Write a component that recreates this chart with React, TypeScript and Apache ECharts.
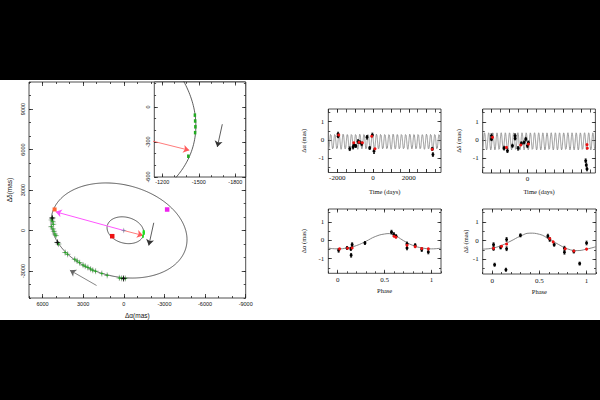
import React, { useEffect, useRef } from "react";
import * as echarts from "echarts";

// ---------------- Orbit panel (left) ----------------
const BIG_ORBIT = { cx: 350, cy: 0, a: 5100, b: 3400, tiltDeg: 14 };
const SMALL_ORBIT = { cx: -120, cy: 20, a: 1380, b: 960, tiltDeg: 15 };

const companionPts = [
  [5280, 930], [5330, 780], [5240, 640], [5210, 460], [5360, 280], [5230, 120],
  [5160, -60], [5090, -260], [5010, -380], [4900, -880], [4820, -1000],
  [4330, -1630], [4150, -1760], [3620, -2130], [3450, -2250], [3260, -2390],
  [3010, -2560], [2850, -2640], [2650, -2740], [2450, -2860], [2290, -2940],
  [2080, -3010], [1620, -3190], [1230, -3320], [330, -3510], [160, -3540],
  [20, -3560], [-110, -3550],
];
const companionErr = 230;
const companionStars = [[5280, 930], [4900, -880], [20, -3560]];
const primaryPts = [[-1468, -70], [-1470, -120], [-1472, -170], [-1470, -220], [-1414, -422]];
const originMark = [[0, 0]];
const redDot = [[855, -422]];
const magentaDot = [[-3200, 1555]];
const orangeDot = [[5110, 1560]];
const magentaArrow = [[0, 0], [5034, 1385]];
const redArrow = [[0, 0], [-1422, -371]];
const motionArrowMain = [[-2211, 570], [-1843, -1111]];
const directionArrow = [[2012, -4074], [3980, -2940]];
const motionArrowInset = [[-1693, -148], [-1652, -343]];

const mainXTicks = [-9000, -6000, -3000, 0, 3000, 6000];
const mainYTicks = [-3000, 0, 3000, 6000, 9000];
const insetXTicks = [-1800, -1500, -1200];
const insetYTicks = [-600, -300, 0];

// ---------------- Time / phase panels (right) ----------------
const PERIOD = 233;
const T0 = -165;
const raTimeModel = { offset: -0.1, amp: 0.42, peakPhase: 0.55 };
const decTimeModel = { offset: -0.07, amp: 0.47, peakPhase: 0.42 };

// [time, value, error]
const raTimeObs = [
  [-1953, 0.32, 0.1], [-1953, 0.2, 0.08], [-1302, -0.49, 0.1], [-1116, -0.4, 0.1],
  [-1060, -0.27, 0.08], [-967, -0.34, 0.08], [-837, -0.09, 0.1], [-744, -0.13, 0.08],
  [-633, -0.22, 0.1], [-335, 0.14, 0.1], [-186, -0.45, 0.08], [-37, 0.27, 0.1],
  [56, -0.63, 0.12], [3312, -0.5, 0.08], [3349, -0.81, 0.1],
];
const raTimeFit = [
  [-1916, 0.27], [-1079, -0.16], [-781, -0.13], [-595, -0.16], [-74, 0.2], [112, -0.49], [3312, -0.52],
];
const decTimeObs = [
  [-2009, 0.24, 0.1], [-2009, 0.05, 0.08], [-1302, -0.44, 0.1], [-1116, -0.58, 0.1],
  [-837, -0.31, 0.08], [-688, 0.24, 0.1], [-688, 0.09, 0.08], [-521, -0.45, 0.1],
  [-335, -0.18, 0.08], [-186, -0.13, 0.08], [-93, 0.05, 0.1], [0, -0.31, 0.1],
  [56, -0.13, 0.08], [3256, -1.13, 0.1], [3293, -1.36, 0.1], [3330, -1.58, 0.1],
];
const decTimeFit = [
  [-1953, 0.15], [-1172, -0.4], [-372, -0.27], [56, -0.22], [3349, -0.45], [3330, -0.25],
];

// [phase, value, error]
const raPhaseObs = [
  [0.01, -0.55, 0.1], [0.1, -0.42, 0.08], [0.14, -0.47, 0.08], [0.143, -0.82, 0.1],
  [0.154, -0.24, 0.1], [0.29, -0.15, 0.08], [0.573, 0.44, 0.1], [0.598, 0.31, 0.1],
  [0.622, 0.22, 0.08], [0.738, -0.2, 0.1], [0.738, -0.42, 0.1], [0.825, -0.27, 0.08],
  [0.895, -0.51, 0.1], [0.965, -0.64, 0.1],
];
const raPhaseFit = [
  [0.02, -0.47], [0.105, -0.44], [0.154, -0.42], [0.6, 0.22], [0.62, 0.16],
  [0.738, -0.27], [0.825, -0.35], [0.895, -0.45], [0.965, -0.47],
];
const decPhaseObs = [
  [0.015, -0.22, 0.1], [0.015, -0.44, 0.08], [0.026, -1.3, 0.08], [0.09, -0.37, 0.08],
  [0.146, -1.57, 0.08], [0.153, 0.06, 0.1], [0.153, -0.44, 0.1], [0.3, 0.28, 0.08],
  [0.59, 0.24, 0.1], [0.61, 0.06, 0.1], [0.657, -0.22, 0.08], [0.766, -0.41, 0.1],
  [0.766, -0.63, 0.1], [0.865, -0.59, 0.08], [0.927, -1.24, 0.08], [1.0, -0.13, 0.1],
];
const decPhaseFit = [
  [0.015, -0.41], [0.1, -0.31], [0.153, -0.19], [0.61, 0.11], [0.646, -0.07],
  [0.774, -0.44], [0.865, -0.56], [1.0, -0.46],
];
const raCurvePhase = [-0.1, 0, 0.1, 0.2, 0.3, 0.4, 0.5, 0.55, 0.6, 0.7, 0.8, 0.9, 1.0, 1.1];
const raCurveValue = [-0.43, -0.47, -0.42, -0.29, -0.06, 0.2, 0.34, 0.36, 0.3, -0.02, -0.28, -0.42, -0.47, -0.43];
const decCurvePhase = [-0.1, 0, 0.1, 0.2, 0.3, 0.4, 0.5, 0.6, 0.7, 0.8, 0.9, 1.0, 1.1];
const decCurveValue = [-0.46, -0.41, -0.26, -0.02, 0.24, 0.4, 0.34, 0.09, -0.2, -0.45, -0.54, -0.46, -0.33];

const timeLabelsRA = [-2000, 0, 2000];
const timeLabelsDec = [0];
const masLabels = [-1, 0, 1];
const phaseLabels = [0, 0.5, 1];

// ---------------- helpers ----------------
function steps(min: number, max: number, step: number) {
  const out: number[] = [];
  const start = Math.ceil(min / step - 1e-9) * step;
  for (let v = start; v <= max + 1e-9; v += step) out.push(Math.round(v * 1000) / 1000);
  return out;
}

function ellipsePts(o: any, n = 400) {
  const th = (o.tiltDeg * Math.PI) / 180;
  const c = Math.cos(th), s = Math.sin(th);
  const pts: number[][] = [];
  for (let i = 0; i <= n; i++) {
    const t = (2 * Math.PI * i) / n;
    const u = o.a * Math.cos(t), v = o.b * Math.sin(t);
    pts.push([o.cx + u * c - v * s, o.cy + u * s + v * c]);
  }
  return pts;
}

function timeModel(m: any, tmin: number, tmax: number) {
  const pts: number[][] = [];
  for (let t = tmin; t <= tmax; t += 4) {
    const ph = (t - T0) / PERIOD - m.peakPhase;
    pts.push([t, m.offset + m.amp * Math.cos(2 * Math.PI * ph)]);
  }
  return pts;
}

const SANS = "Liberation Sans";
const SERIF = "Liberation Serif";

function axisSet(dim: "x" | "y", gi: number, s: any, z: number) {
  const common: any = {
    type: "value", gridIndex: gi, min: s.min, max: s.max, inverse: !!s.inverse, z,
    splitLine: { show: false }, axisLine: { show: false, onZero: false }, silent: true,
  };
  const posA = dim === "x" ? "bottom" : "left";
  const posB = dim === "x" ? "top" : "right";
  const tickStyle = { color: "#222", width: 0.8 };
  const minorTick = { show: true, inside: true, length: s.minorLen ?? 2, customValues: s.minors, lineStyle: tickStyle };
  const majorTick = { show: true, inside: true, length: s.majorLen ?? 4, customValues: s.majors, lineStyle: tickStyle };
  const labelled: any = {
    ...common, position: posA, axisTick: minorTick,
    axisLabel: {
      show: true, customValues: s.labels, fontFamily: s.font, fontSize: s.fontSize, color: "#111",
      margin: s.margin, rotate: s.rotate ?? 0, formatter: (v: number) => String(v),
    },
  };
  if (s.name) {
    labelled.name = s.name;
    labelled.nameLocation = "middle";
    labelled.nameGap = s.nameGap;
    labelled.nameTextStyle = { fontFamily: s.font, fontSize: s.nameSize, color: "#111" };
  }
  return [
    labelled,
    { ...common, position: posA, axisTick: majorTick, axisLabel: { show: false } },
    { ...common, position: posB, axisTick: minorTick, axisLabel: { show: false } },
    { ...common, position: posB, axisTick: majorTick, axisLabel: { show: false } },
  ];
}

function errBars(data: number[][], gi: number, color: string, z: number, cross = false, width = 0.8) {
  return {
    type: "custom", xAxisIndex: gi * 4, yAxisIndex: gi * 4, z, silent: true,
    data, encode: { x: 0, y: 1 },
    renderItem: (_p: any, api: any) => {
      const x = api.value(0), y = api.value(1), ey = api.value(2), ex = api.value(3);
      const a = api.coord([x, y - ey]);
      const b = api.coord([x, y + ey]);
      const children: any[] = [
        { type: "line", shape: { x1: a[0], y1: a[1], x2: b[0], y2: b[1] }, style: { stroke: color, lineWidth: width } },
      ];
      if (cross) {
        const c = api.coord([x - ex, y]);
        const d = api.coord([x + ex, y]);
        children.push({ type: "line", shape: { x1: c[0], y1: c[1], x2: d[0], y2: d[1] }, style: { stroke: color, lineWidth: width } });
      } else {
        children.push({ type: "line", shape: { x1: a[0] - 1, y1: a[1], x2: a[0] + 1, y2: a[1] }, style: { stroke: color, lineWidth: width } });
        children.push({ type: "line", shape: { x1: b[0] - 1, y1: b[1], x2: b[0] + 1, y2: b[1] }, style: { stroke: color, lineWidth: width } });
      }
      return { type: "group", children };
    },
  };
}

const STAR = "path://M0,-10L2,-2L10,0L2,2L0,10L-2,2L-10,0L-2,-2Z";

function scatter(data: number[][], gi: number, color: string, size: any, symbol: string, z: number) {
  return {
    type: "scatter", xAxisIndex: gi * 4, yAxisIndex: gi * 4, z, silent: true,
    data: data.map((d) => [d[0], d[1]]), symbol, symbolSize: size,
    itemStyle: { color, opacity: 1 },
  };
}

function arrow(coords: number[][], gi: number, color: string, width: number, z: number) {
  return {
    type: "lines", coordinateSystem: "cartesian2d", xAxisIndex: gi * 4, yAxisIndex: gi * 4,
    z, silent: true, clip: true, polyline: false,
    symbol: ["none", "arrow"], symbolSize: 6,
    lineStyle: { color, width, opacity: 1 },
    data: [{ coords }],
  };
}

function line(data: number[][], gi: number, color: string, width: number, z: number, smooth = false) {
  return {
    type: "line", xAxisIndex: gi * 4, yAxisIndex: gi * 4, z, silent: true,
    data, showSymbol: false, symbol: "none", smooth, clip: true,
    lineStyle: { color, width },
  };
}

function buildOption() {
  const grids = [
    { left: 29, top: 82, width: 216.7, height: 216 },
    { left: 154.3, top: 82, width: 91.4, height: 95, backgroundColor: "#fff", z: 10 },
    { left: 328.3, top: 109, width: 112.7, height: 63.5 },
    { left: 482.7, top: 109, width: 112.7, height: 64 },
    { left: 328.3, top: 209, width: 112.7, height: 64.3 },
    { left: 482.7, top: 209, width: 113.3, height: 65 },
  ].map((g: any) => ({
    show: true, borderColor: "#222", borderWidth: 0.8, backgroundColor: g.backgroundColor ?? "transparent", ...g,
  }));

  const mainX = { min: -9000, max: 7000, inverse: true, majors: mainXTicks, minors: steps(-9000, 7000, 1000), labels: mainXTicks, font: SANS, fontSize: 5.5, margin: 3, name: "Δα(mas)", nameGap: 10, nameSize: 6.5 };
  const mainY = { min: -5000, max: 11000, majors: mainYTicks, minors: steps(-5000, 11000, 1000), labels: mainYTicks, font: SANS, fontSize: 5.5, margin: 3, rotate: 90, name: "Δδ(mas)", nameGap: 16, nameSize: 6.5 };
  const insX = { min: -1885, max: -1135, inverse: true, majors: insetXTicks, minors: steps(-1885, -1135, 100), labels: insetXTicks, font: SANS, fontSize: 5.5, margin: 2, majorLen: 3.5, minorLen: 1.8 };
  const insY = { min: -600, max: 214, majors: insetYTicks, minors: steps(-600, 214, 100), labels: insetYTicks, font: SANS, fontSize: 5.5, margin: 3, rotate: 90, majorLen: 3.5, minorLen: 1.8 };
  const tRA = { min: -2500, max: 3800, majors: steps(-2500, 3800, 1000), minors: steps(-2500, 3800, 500), labels: timeLabelsRA, font: SERIF, fontSize: 7, margin: 2, name: "Time (days)", nameGap: 15, nameSize: 6.5, majorLen: 3.5, minorLen: 3.5 };
  const tDec = { ...tRA, labels: timeLabelsDec };
  const yRA = { min: -1.8, max: 1.7, majors: masLabels, minors: steps(-1.8, 1.7, 0.5), labels: masLabels, font: SERIF, fontSize: 7, margin: 4, name: "Δα (mas)", nameGap: 21, nameSize: 6.5, majorLen: 3.5, minorLen: 2 };
  const yDec = { ...yRA, name: "Δδ (mas)" };
  const yDec2 = { ...yRA, name: "Δδ (mas)", nameGap: 13 };
  const ph = { min: -0.1, max: 1.1, majors: phaseLabels, minors: steps(-0.1, 1.1, 0.1), labels: phaseLabels, font: SERIF, fontSize: 7, margin: 3, name: "Phase", nameGap: 14, nameSize: 6.5, majorLen: 3.5, minorLen: 2 };

  const xAxis = [
    ...axisSet("x", 0, mainX, 0), ...axisSet("x", 1, insX, 11),
    ...axisSet("x", 2, tRA, 0), ...axisSet("x", 3, tDec, 0),
    ...axisSet("x", 4, ph, 0), ...axisSet("x", 5, ph, 0),
  ];
  const yAxis = [
    ...axisSet("y", 0, mainY, 0), ...axisSet("y", 1, insY, 11),
    ...axisSet("y", 2, yRA, 0), ...axisSet("y", 3, yDec, 0),
    ...axisSet("y", 4, yRA, 0), ...axisSet("y", 5, yDec2, 0),
  ];

  const bigOrbit = ellipsePts(BIG_ORBIT);
  const smallOrbit = ellipsePts(SMALL_ORBIT);
  const compErr = companionPts.map((p) => [p[0], p[1], companionErr, companionErr]);

  const raCurve = raCurvePhase.map((p, i) => [p, raCurveValue[i]]);
  const decCurve = decCurvePhase.map((p, i) => [p, decCurveValue[i]]);

  const series: any[] = [
    // main orbit panel
    line(bigOrbit, 0, "#333", 0.8, 2),
    line(smallOrbit, 0, "#333", 0.8, 2),
    errBars(compErr, 0, "#a0a0a0", 3, true, 0.7),
    scatter(companionPts, 0, "#1fa51f", 5, STAR, 4),
    scatter(companionStars, 0, "#111", 7, STAR, 5),
    scatter(primaryPts, 0, "#22dd22", [1.8, 3], "rect", 4),
    arrow(magentaArrow, 0, "#ff55ff", 1, 4),
    arrow(redArrow, 0, "#ff5a5a", 0.8, 4),
    arrow(motionArrowMain, 0, "#333", 0.8, 4),
    arrow(directionArrow, 0, "#666", 0.8, 4),
    scatter(originMark, 0, "#8080a0", 6, STAR, 5),
    scatter(redDot, 0, "#ee1111", 4.5, "rect", 5),
    scatter(magentaDot, 0, "#ee22ee", 4.5, "rect", 5),
    scatter(orangeDot, 0, "#ff6633", 4, "rect", 5),
    // inset
    line(smallOrbit, 1, "#333", 0.8, 12),
    scatter(primaryPts, 1, "#22aa22", [2.5, 3.5], "rect", 13),
    arrow(redArrow, 1, "#ff5a5a", 0.8, 13),
    arrow(motionArrowInset, 1, "#333", 0.8, 13),
    // time panels
    line(timeModel(raTimeModel, -2500, 3800), 2, "#8c8c8c", 0.9, 2),
    errBars(raTimeObs, 2, "#000", 3),
    scatter(raTimeObs, 2, "#000", 3, "circle", 4),
    scatter(raTimeFit, 2, "#ee1111", 3, "circle", 5),
    line(timeModel(decTimeModel, -2500, 3800), 3, "#8c8c8c", 0.9, 2),
    errBars(decTimeObs, 3, "#000", 3),
    scatter(decTimeObs, 3, "#000", 3, "circle", 4),
    scatter(decTimeFit, 3, "#ee1111", 3, "circle", 5),
    // phase panels
    line(raCurve, 4, "#777", 0.9, 2, true),
    errBars(raPhaseObs, 4, "#000", 3),
    scatter(raPhaseObs, 4, "#000", 3, "circle", 4),
    scatter(raPhaseFit, 4, "#ee1111", 3, "circle", 5),
    line(decCurve, 5, "#777", 0.9, 2, true),
    errBars(decPhaseObs, 5, "#000", 3),
    scatter(decPhaseObs, 5, "#000", 3, "circle", 4),
    scatter(decPhaseFit, 5, "#ee1111", 3, "circle", 5),
  ];

  return { animation: false, grid: grids, xAxis, yAxis, series };
}

export default function App() {
  const ref = useRef<HTMLDivElement>(null);
  useEffect(() => {
    if (!ref.current) return;
    const chart = echarts.init(ref.current, null, { renderer: "svg" });
    chart.setOption(buildOption() as any);
    return () => chart.dispose();
  }, []);
  return (
    <div style={{ position: "fixed", left: 0, top: 0, width: 600, height: 400, background: "#000" }}>
      <div style={{ position: "absolute", left: 0, top: 80, width: 600, height: 240, background: "#fff" }} />
      <div ref={ref} style={{ position: "absolute", left: 0, top: 0, width: 600, height: 400 }} />
    </div>
  );
}
